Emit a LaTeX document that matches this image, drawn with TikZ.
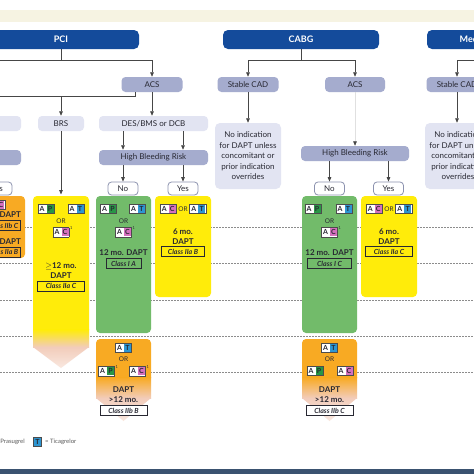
\documentclass[tikz,border=0pt]{standalone}
\usepackage{fontspec}
\setmainfont{Lato}
\usetikzlibrary{arrows.meta}
\definecolor{chdr}{RGB}{20,75,155}
\definecolor{cmid}{RGB}{165,172,206}
\definecolor{clite}{RGB}{226,228,242}
\definecolor{cgreen}{RGB}{114,187,106}
\definecolor{cyel}{RGB}{255,236,10}
\definecolor{corange}{RGB}{248,170,35}
\definecolor{cpeach}{RGB}{242,204,186}
\definecolor{cband}{RGB}{246,243,226}
\definecolor{cbar}{RGB}{58,82,112}
\definecolor{cline}{RGB}{70,70,70}
\definecolor{ctext}{RGB}{40,40,50}
\definecolor{cP}{RGB}{40,150,70}
\definecolor{cT}{RGB}{45,150,210}
\definecolor{cC}{RGB}{214,112,190}
\newcommand{\dcell}[2]{{\fboxsep=0pt\colorbox{#1}{\makebox[7pt][c]{\rule[-1.6pt]{0pt}{8pt}\bfseries\fontsize{7}{8}\selectfont #2}}}}
\newcommand{\drug}[2]{{\fboxsep=0.4pt\fboxrule=0.5pt\fcolorbox{black!70}{white}{\dcell{white}{A}\hspace{1pt}\dcell{#1}{#2}}}}
\newcommand{\fnm}[1]{\rlap{\raisebox{5pt}{\fontsize{4}{4}\selectfont\,#1}}}
\begin{document}
\begin{tikzpicture}[x=1pt,y=-1pt,
 every node/.style={text=ctext},
 hdr/.style={fill=chdr, rounded corners=5pt, minimum height=19pt, inner sep=0pt, text=white, font=\bfseries\fontsize{9}{10}\selectfont},
 midbox/.style={fill=cmid, rounded corners=4pt, minimum height=15pt, inner sep=0pt, font=\fontsize{8}{9}\selectfont},
 litebox/.style={fill=clite, rounded corners=4pt, minimum height=15pt, inner sep=0pt, font=\fontsize{8}{9}\selectfont},
 notebox/.style={fill=clite, rounded corners=5pt, minimum width=66pt, minimum height=66pt, inner sep=0pt, align=center, font=\fontsize{8}{10.5}\selectfont},
 ynbox/.style={draw=cmid!85!black, line width=0.8pt, fill=white, rounded corners=3.5pt, minimum width=30pt, minimum height=13pt, inner sep=0pt, font=\fontsize{8}{9}\selectfont},
 colbox/.style={rounded corners=4pt, inner sep=0pt},
 conn/.style={draw=cline, line width=0.75pt},
 arr/.style={conn, -{Triangle[length=4.5pt, width=3.6pt]}},
 tline/.style={draw=black!45, line width=0.6pt, dash pattern=on 1.5pt off 1.5pt},
 txt/.style={inner sep=0pt, font=\bfseries\fontsize{8}{9}\selectfont},
 orw/.style={inner sep=0pt, font=\fontsize{6.5}{7}\selectfont},
 badge/.style={inner sep=0pt},
 cls/.style={draw=ctext, line width=0.5pt, inner xsep=1.5pt, inner ysep=1pt, minimum height=10pt, font=\bfseries\itshape\fontsize{7}{8}\selectfont},
 lgd/.style={inner sep=0pt, text=black!65, font=\fontsize{6}{7}\selectfont}]
\useasboundingbox (0,0) rectangle (474,474);
\clip (0,0) rectangle (474,474);
\fill[white] (0,0) rectangle (474,474);
\fill[cband] (0,10) rectangle (474,22);
\fill[cbar] (0,469) rectangle (474,474);
\foreach \yy in {227,263,300,336,372} \draw[tline] (0,\yy) -- (474,\yy);

% ---------- columns ----------
\node[colbox, fill=corange, minimum width=60pt, minimum height=62pt] (lor) at (-5,227) {};
% BRS yellow arrow
\fill[cyel, rounded corners=4pt] (33,330) -- (33,196) -- (89,196) -- (89,330);
\shade[top color=cyel, bottom color=cpeach] (33,329.5) rectangle (89,347);
\shade[top color=cpeach, bottom color=cpeach!45!white] (33,347) -- (89,347) -- (61,368) -- cycle;
\coordinate (brsTop) at (61,196);
\node[colbox, fill=cgreen, minimum width=55pt, minimum height=137pt] (g1) at (123.5,264.5) {};
\node[colbox, fill=cyel, minimum width=56pt, minimum height=101pt] (y1) at (183,246.5) {};
\node[colbox, fill=cgreen, minimum width=55pt, minimum height=137pt] (g2) at (329.5,264.5) {};
\node[colbox, fill=cyel, minimum width=56pt, minimum height=101pt] (y2) at (389,246.5) {};
% orange prolonged arrows
\fill[corange, rounded corners=4pt] (96,378) -- (96,339) -- (151,339) -- (151,378);
\shade[top color=corange, bottom color=cpeach] (96,377.5) rectangle (151,398);
\shade[top color=cpeach, bottom color=cpeach!45!white] (96,398) -- (151,398) -- (123.5,421) -- cycle;
\fill[corange, rounded corners=4pt] (302,378) -- (302,339) -- (357,339) -- (357,378);
\shade[top color=corange, bottom color=cpeach] (302,377.5) rectangle (357,398);
\shade[top color=cpeach, bottom color=cpeach!45!white] (302,398) -- (357,398) -- (329.5,421) -- cycle;

% ---------- column contents ----------
% left orange (cut by the picture edge, as in the reference)
\node[badge] (lo0) at (-3,205) {\drug{cC}{C}};
\node[txt, anchor=east] (lo1) at (21,215) {1 mo. DAPT};
\node[cls, anchor=east] (lo2) at (20,225.5) {Class IIb C};
\node[txt, anchor=east] (lo3) at (21,242) {3 mo. DAPT};
\node[cls, anchor=east] (lo4) at (20,252) {Class IIa B};
% BRS yellow
\node[badge] (b1) at (46,209) {\drug{cP}{P}};
\node[badge] (b2) at (76,209) {\drug{cT}{T}};
\node[orw] (b3) at (61,221) {OR};
\node[badge] (b4) at (61,232) {\drug{cC}{C}\fnm{1}};
\node[txt] (b5) at (61,266) {$\geq$12 mo.};
\node[txt] (b6) at (61,276) {DAPT};
\node[cls, minimum width=47pt] (b7) at (61,286) {Class IIa C};
% PCI green
\node[badge] (g1a) at (108.5,209) {\drug{cP}{P}};
\node[badge] (g1b) at (137.5,209) {\drug{cT}{T}};
\node[orw] (g1c) at (123.5,221) {OR};
\node[badge] (g1d) at (123.5,232) {\drug{cC}{C}\fnm{1}};
\node[txt] (g1e) at (123.5,253) {12 mo. DAPT};
\node[cls, minimum width=35pt] (g1f) at (123.5,263.5) {Class I A};
% PCI yellow
\node[badge] (y1a) at (183,209) {\drug{cC}{C}\,{\fontsize{6.5}{7}\selectfont OR}\,\drug{cT}{T}};
\node[txt] (y1b) at (183,232) {6 mo.};
\node[txt] (y1c) at (183,241.5) {DAPT};
\node[cls, minimum width=43pt] (y1d) at (183,251.5) {Class IIa B};
% CABG green
\node[badge] (g2a) at (313,209) {\drug{cP}{P}};
\node[badge] (g2b) at (344,209) {\drug{cT}{T}};
\node[orw] (g2c) at (329.5,221) {OR};
\node[badge] (g2d) at (329.5,232) {\drug{cC}{C}\fnm{1}};
\node[txt] (g2e) at (329.5,253) {12 mo. DAPT};
\node[cls, minimum width=44pt] (g2f) at (329.5,263.5) {Class I C};
% CABG yellow
\node[badge] (y2a) at (389,209) {\drug{cC}{C}\,{\fontsize{6.5}{7}\selectfont OR}\,\drug{cT}{T}};
\node[txt] (y2b) at (389,232) {6 mo.};
\node[txt] (y2c) at (389,241.5) {DAPT};
\node[cls, minimum width=47pt] (y2d) at (389,251.5) {Class IIa C};
% PCI orange
\node[badge] (o1a) at (123.5,348) {\drug{cT}{T}};
\node[orw] (o1b) at (123.5,359) {OR};
\node[badge] (o1c) at (106.5,371) {\drug{cP}{P}\fnm{1}};
\node[badge] (o1d) at (137.5,371) {\drug{cC}{C}\fnm{1}};
\node[txt] (o1e) at (123.5,390) {DAPT};
\node[txt] (o1f) at (123.5,400) {>12 mo.};
\node[cls, fill=white, minimum width=47pt] (o1g) at (123.5,410.5) {Class IIb B};
% CABG orange
\node[badge] (o2a) at (329.5,348) {\drug{cT}{T}};
\node[orw] (o2b) at (329.5,359) {OR};
\node[badge] (o2c) at (315,371) {\drug{cP}{P}};
\node[badge] (o2d) at (345,371) {\drug{cC}{C}};
\node[txt] (o2e) at (329.5,390) {DAPT};
\node[txt] (o2f) at (329.5,400) {>12 mo.};
\node[cls, fill=white, minimum width=47pt] (o2g) at (329.5,410.5) {Class IIb C};

% ---------- header and decision boxes ----------
\node[hdr, minimum width=156pt] (pci) at (61,39.5) {PCI};
\node[hdr, minimum width=156pt] (cabg) at (301,39.5) {CABG};
\node[hdr, minimum width=130pt] (med) at (492,39.5) {Medical therapy};

\node[midbox, minimum width=61pt] (acs1) at (152,84.5) {ACS};
\node[midbox, minimum width=61pt] (sc2) at (248,84.5) {Stable CAD};
\node[midbox, minimum width=60pt] (acs2) at (355,84.5) {ACS};
\node[midbox, minimum width=61pt] (sc3) at (457,84.5) {Stable CAD};

\node[litebox, minimum width=61pt] (lbox) at (-9.5,123.5) {};
\node[litebox, minimum width=46pt] (brs) at (61,123.5) {BRS};
\node[litebox, minimum width=109pt] (des) at (153.5,123.5) {DES/BMS or DCB};

\node[midbox, minimum width=61pt] (lmid) at (-9.5,157.5) {};
\node[midbox, minimum width=109pt] (hbr1) at (153.5,157.5) {High Bleeding Risk};
\node[midbox, minimum width=108pt] (hbr2) at (355,153.5) {High Bleeding Risk};

\node[notebox] (noind2) at (248,156) {No indication\\for DAPT unless\\concomitant or\\prior indication\\overrides};
\node[notebox] (noind3) at (458,156) {No indication\\for DAPT unless\\concomitant or\\prior indication\\overrides};

\node[ynbox] (lyes) at (-3,188.5) {Yes};
\node[ynbox] (no1) at (123,188.5) {No};
\node[ynbox] (yes1) at (183,188.5) {Yes};
\node[ynbox] (no2) at (329.5,188.5) {No};
\node[ynbox] (yes2) at (388.5,188.5) {Yes};

% ---------- connectors ----------
\coordinate (pciW) at (-5,60);
\coordinate (acsL) at (135,96);
\coordinate (leftW) at (-5,96);
\coordinate (cabgJ) at (301,60);
\coordinate (medE) at (480,60);
\draw[conn] (pci.south) -- (pci.south |- pciW);
\draw[arr] (pciW) -| (acs1.north);
\draw[conn] (acs1.south -| acsL) -- (acsL) -- (leftW);
\draw[arr] (brs.north |- acsL) -- (brs.north);
\draw[arr] (acs1.south) -- (acs1.south |- des.north);
\draw[arr] (des.south -| no1) -- (hbr1.north -| no1);
\draw[arr] (des.south -| yes1) -- (hbr1.north -| yes1);
\draw[arr] (hbr1.south -| no1) -- (no1.north);
\draw[arr] (hbr1.south -| yes1) -- (yes1.north);
\draw[arr, shorten >=1.5pt] (brs.south) -- (brsTop);

\draw[conn] (cabg.south) -- (cabgJ);
\draw[arr] (cabgJ) -| (sc2.north);
\draw[arr] (cabgJ) -| (acs2.north);
\draw[arr] (sc2.south) -- (noind2.north);
\draw[draw=black!12, line width=0.7pt, -{Triangle[length=4.5pt, width=3.6pt, color=cline]}] (acs2.south) -- (hbr2.north);
\draw[arr] (hbr2.south -| no2) -- (no2.north);
\draw[arr] (hbr2.south -| yes2) -- (yes2.north);

\draw[arr] (medE) -| (sc3.north);
\draw[arr] (sc3.south) -- (sc3.south |- noind3.north);

% ---------- legend ----------
\node[lgd, anchor=east] (lgP) at (25,442) {= Prasugrel};
\node[badge] (lgT) at (37.5,442) {{\fboxsep=0.4pt\fboxrule=0.5pt\fcolorbox{black!70}{white}{\dcell{cT}{T}}}};
\node[lgd, anchor=west] (lgTt) at (45,442) {= Ticagrelor};
\end{tikzpicture}
\end{document}
